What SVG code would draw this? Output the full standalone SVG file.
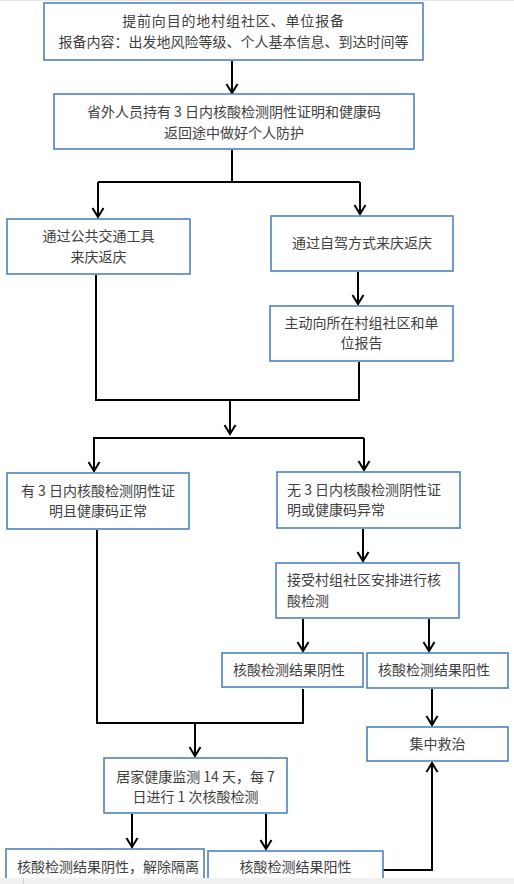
<svg xmlns="http://www.w3.org/2000/svg" width="514" height="884" viewBox="0 0 514 884">
<defs>
<marker id="ah" markerUnits="userSpaceOnUse" markerWidth="14" markerHeight="14" viewBox="0 0 14 14" refX="12" refY="7" orient="auto">
<path d="M3,1.5 L12,7 L3,12.5" fill="none" stroke="#000" stroke-width="2"/>
</marker>
<style>
.b{fill:#fff;stroke:#4f81bd;stroke-width:1.6}
.t{font-family:"Noto Sans CJK SC","DejaVu Sans",sans-serif;font-size:14px;fill:#404040}
.c{text-anchor:middle}
.l{fill:none;stroke:#000;stroke-width:2}
.a{fill:none;stroke:#000;stroke-width:2;marker-end:url(#ah)}
</style>
</defs>
<rect x="0" y="0" width="514" height="884" fill="#fff"/>
<rect x="0" y="0" width="514" height="1" fill="#e6e6e6"/>
<g id="connectors">
<path class="a" d="M232,61 V93"/>
<path class="l" d="M232,150 V182 M98,182 H360"/>
<path class="a" d="M98,182 V217"/>
<path class="a" d="M360,182 V214"/>
<path class="a" d="M358,272 V304"/>
<path class="l" d="M96,275 V400 H359 V362"/>
<path class="a" d="M230,400 V434"/>
<path class="l" d="M93,438 H364"/>
<path class="a" d="M94,438 V471"/>
<path class="a" d="M364,438 V470"/>
<path class="a" d="M363,529 V561"/>
<path class="a" d="M303,619 V651"/>
<path class="a" d="M429,619 V651"/>
<path class="l" d="M97,530 V723 H303 V689"/>
<path class="a" d="M195,723 V756"/>
<path class="a" d="M432,689 V725"/>
<path class="a" d="M132,814 V847"/>
<path class="a" d="M266,814 V849"/>
<path class="a" d="M383,870 H432 V763"/>
</g>
<g id="n1"><rect class="b" x="44" y="3" width="379" height="57"/>
<text class="t c" x="233.5" y="26" letter-spacing="0.85">提前向目的地村组社区、单位报备</text>
<text class="t c" x="233.5" y="47">报备内容：出发地风险等级、个人基本信息、到达时间等</text></g>
<g id="n2"><rect class="b" x="54" y="94" width="360" height="55"/>
<text class="t c" x="234" y="117">省外人员持有 3 日内核酸检测阴性证明和健康码</text>
<text class="t c" x="234" y="138">返回途中做好个人防护</text></g>
<g id="n3"><rect class="b" x="7" y="219" width="183" height="55"/>
<text class="t c" x="98.5" y="241">通过公共交通工具</text>
<text class="t c" x="98.5" y="262">来庆返庆</text></g>
<g id="n4"><rect class="b" x="271" y="216" width="182" height="55"/>
<text class="t c" x="362" y="248">通过自驾方式来庆返庆</text></g>
<g id="n5"><rect class="b" x="270" y="306" width="183" height="55"/>
<text class="t c" x="361.5" y="328">主动向所在村组社区和单</text>
<text class="t c" x="361.5" y="348">位报告</text></g>
<g id="n6"><rect class="b" x="7" y="473" width="182" height="56"/>
<text class="t c" x="98" y="496">有 3 日内核酸检测阴性证</text>
<text class="t c" x="98" y="516">明且健康码正常</text></g>
<g id="n7"><rect class="b" x="277" y="472" width="183" height="56"/>
<text class="t" x="287" y="495">无 3 日内核酸检测阴性证</text>
<text class="t" x="287" y="515">明或健康码异常</text></g>
<g id="n8"><rect class="b" x="276" y="563" width="183" height="55"/>
<text class="t" x="287" y="585">接受村组社区安排进行核</text>
<text class="t" x="287" y="606">酸检测</text></g>
<g id="n9"><rect class="b" x="222" y="653" width="141" height="34"/>
<text class="t" x="233" y="675">核酸检测结果阴性</text></g>
<g id="n10"><rect class="b" x="367" y="653" width="141" height="35"/>
<text class="t" x="378" y="675">核酸检测结果阳性</text></g>
<g id="n11"><rect class="b" x="367" y="727" width="141" height="34"/>
<text class="t c" x="437.5" y="749">集中救治</text></g>
<g id="n12"><rect class="b" x="104" y="758" width="183" height="55"/>
<text class="t c" x="195.5" y="782">居家健康监测 14 天，每 7</text>
<text class="t c" x="195.5" y="802">日进行 1 次核酸检测</text></g>
<g id="n13"><rect class="b" x="6" y="849" width="198" height="40"/>
<text class="t" x="17" y="872">核酸检测结果阴性，解除隔离</text></g>
<g id="n14"><rect class="b" x="208" y="851" width="175" height="40"/>
<text class="t c" x="295.5" y="872">核酸检测结果阳性</text></g>
<rect x="0" y="878" width="514" height="6" fill="#f1f1f1"/>
<rect x="23" y="878" width="1" height="6" fill="#d0d0d0"/>
</svg>
